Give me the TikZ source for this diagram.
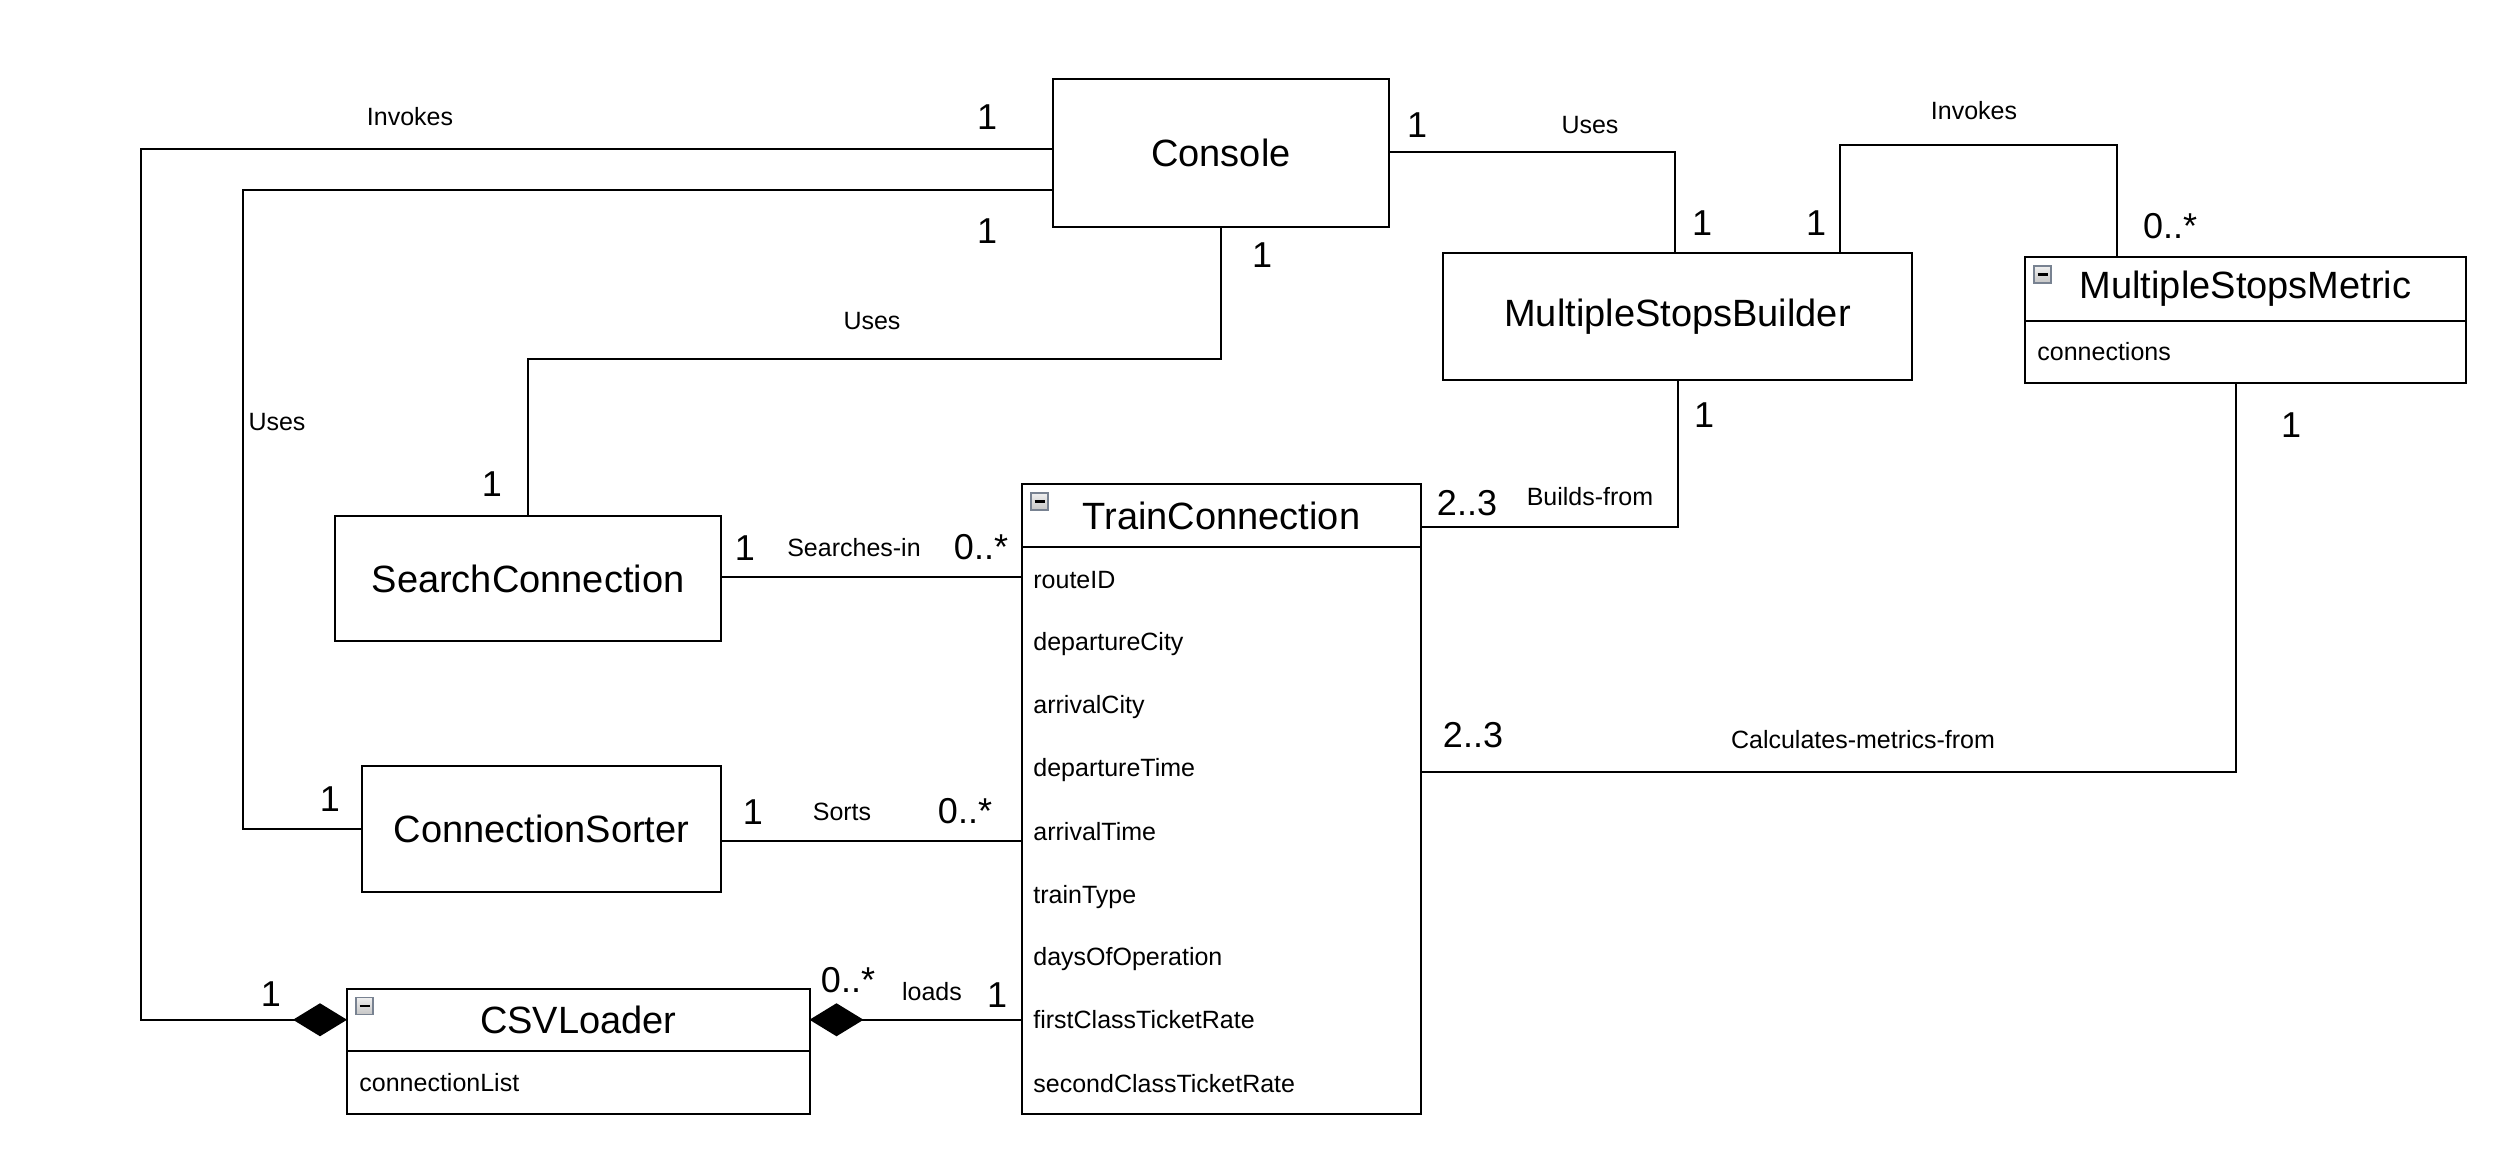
\documentclass[tikz,border=0pt]{standalone}
\usepackage{fontspec}
\setmainfont{Liberation Sans}
\usetikzlibrary{arrows.meta}
\begin{document}
\begin{tikzpicture}[x=0.5pt,y=-0.5pt,
  box/.style={draw, line width=1pt, inner sep=0pt, outer sep=0pt, font=\fontsize{19pt}{22pt}\selectfont},
  conn/.style={draw, line width=1pt},
  comp/.style={conn, -{Diamond[length=27pt,width=16.5pt]}},
  mult/.style={font=\fontsize{18pt}{20pt}\selectfont, inner sep=0pt},
  lbl/.style={font=\fontsize{12.5pt}{15pt}\selectfont, inner sep=0pt},
  attr/.style={lbl, anchor=west, text height=0.72em, text depth=0.2em},
  icon/.style={draw={rgb,255:red,120;green,130;blue,145}, line width=0.6pt, top color=gray!12, bottom color=gray!45},
]
\useasboundingbox (0,0) rectangle (2520,1172);

% ---------- boxes ----------
\node[box, minimum width=168pt, minimum height=74pt] (console) at (1221,153) {Console};
\node[box, minimum width=234.5pt, minimum height=63.5pt] (msb) at (1677.5,316.5) {MultipleStopsBuilder};
\node[box, minimum width=193pt, minimum height=62.5pt] (sc) at (528,578.5) {SearchConnection};
\node[box, minimum width=179.5pt, minimum height=63pt] (cs) at (541.5,829) {ConnectionSorter};
\node[box, minimum width=199.5pt, minimum height=31.5pt] (tc) at (1221.5,515.5) {TrainConnection};
\node[box, minimum width=199.5pt, minimum height=283.5pt] (tcbody) at (1221.5,830.5) {};
\node[box, minimum width=220.5pt, minimum height=32pt] (msm) at (2245.5,289) {MultipleStopsMetric};
\node[box, minimum width=220.5pt, minimum height=31pt] (msmbody) at (2245.5,352) {};
\node[box, minimum width=231.25pt, minimum height=31.25pt] (csv) at (578.25,1019.75) {CSVLoader};
\node[box, minimum width=231.25pt, minimum height=31.5pt] (csvbody) at (578.25,1082.5) {};

% ---------- collapse icons ----------
\foreach \n in {tc,msm,csv}{
  \draw[icon] ([shift={(9,9)}]\n.north west) rectangle ++(17,17);
  \draw[line width=1.1pt] ([shift={(12.5,17.5)}]\n.north west) -- ++(10,0);
}

% ---------- attributes ----------
\node[attr] (a1) at (1033,583) {routeID};
\node[attr] (a2) at (1033,645.5) {departureCity};
\node[attr] (a3) at (1033,708.5) {arrivalCity};
\node[attr] (a4) at (1033,771.5) {departureTime};
\node[attr] (a5) at (1033,835) {arrivalTime};
\node[attr] (a6) at (1033,898) {trainType};
\node[attr] (a7) at (1033,960.5) {daysOfOperation};
\node[attr] (a8) at (1033,1023) {firstClassTicketRate};
\node[attr] (a9) at (1033,1087) {secondClassTicketRate};
\node[attr] (b1) at (2037,355) {connections};
\node[attr] (c1) at (359,1086) {connectionList};

% ---------- connectors ----------
\coordinate (invA) at (141,148.5);
\draw[comp] (console.west |- invA) -- (invA) -- (invA |- csv.west) -- (csv.west);

\coordinate (usA) at (243,190);
\draw[conn] (console.west |- usA) -- (usA) -- (usA |- cs.west) -- (cs.west);

\coordinate (usB) at (1221,359);
\draw[conn] (console.south) -- (console.south |- usB) -- (sc.north |- usB) -- (sc.north);

\coordinate (usC) at (1675,152);
\draw[conn] (console.east |- usC) -- (usC) -- (msb.north -| usC);

\coordinate (ivA) at (1840,145);
\coordinate (ivB) at (2117,145);
\draw[conn] (msb.north -| ivA) -- (ivA) -- (ivB) -- (msm.north -| ivB);

\coordinate (bf) at (1678,527);
\draw[conn] (msb.south) -- (msb.south |- bf) -- (tc.east |- bf);

\coordinate (cm) at (2236,772);
\draw[conn] (msmbody.south -| cm) -- (cm) -- (tcbody.east |- cm);

\coordinate (si) at (721,577);
\draw[conn] (sc.east |- si) -- (tcbody.west |- si);

\coordinate (so) at (721,841);
\draw[conn] (cs.east |- so) -- (tcbody.west |- so);

\draw[comp] (tcbody.west |- csv.east) -- (csv.east);

% ---------- labels and multiplicities ----------
\node[lbl]  (l1) at (410,117) {Invokes};
\node[mult] (m1) at (987,117) {1};
\node[mult] (m2) at (271,994) {1};

\node[mult] (m3) at (987,231) {1};
\node[lbl]  (l2) at (277,422) {Uses};
\node[mult] (m4) at (330,799) {1};

\node[mult] (m5) at (1262,255) {1};
\node[lbl]  (l3) at (872,321) {Uses};
\node[mult] (m6) at (492,484) {1};

\node[mult] (m7) at (1417,125) {1};
\node[lbl]  (l4) at (1590,125) {Uses};
\node[mult] (m8) at (1702,223) {1};

\node[mult] (m9) at (1816,223) {1};
\node[lbl]  (l5) at (1974,111) {Invokes};
\node[mult] (m10) at (2170,226) {0..*};

\node[mult] (m11) at (1704,415) {1};
\node[mult] (m12) at (1467,503) {2..3};
\node[lbl]  (l6) at (1590,497) {Builds-from};

\node[mult] (m13) at (2291,425) {1};
\node[mult] (m14) at (1473,735) {2..3};
\node[lbl]  (l7) at (1863,740) {Calculates-metrics-from};

\node[mult] (m15) at (745,548) {1};
\node[lbl]  (l8) at (854,548) {Searches-in};
\node[mult] (m16) at (981,547) {0..*};

\node[mult] (m17) at (753,812) {1};
\node[lbl]  (l9) at (842,812) {Sorts};
\node[mult] (m18) at (965,811) {0..*};

\node[mult] (m19) at (848,980) {0..*};
\node[lbl]  (l10) at (932,992) {loads};
\node[mult] (m20) at (997,995) {1};
\end{tikzpicture}
\end{document}
